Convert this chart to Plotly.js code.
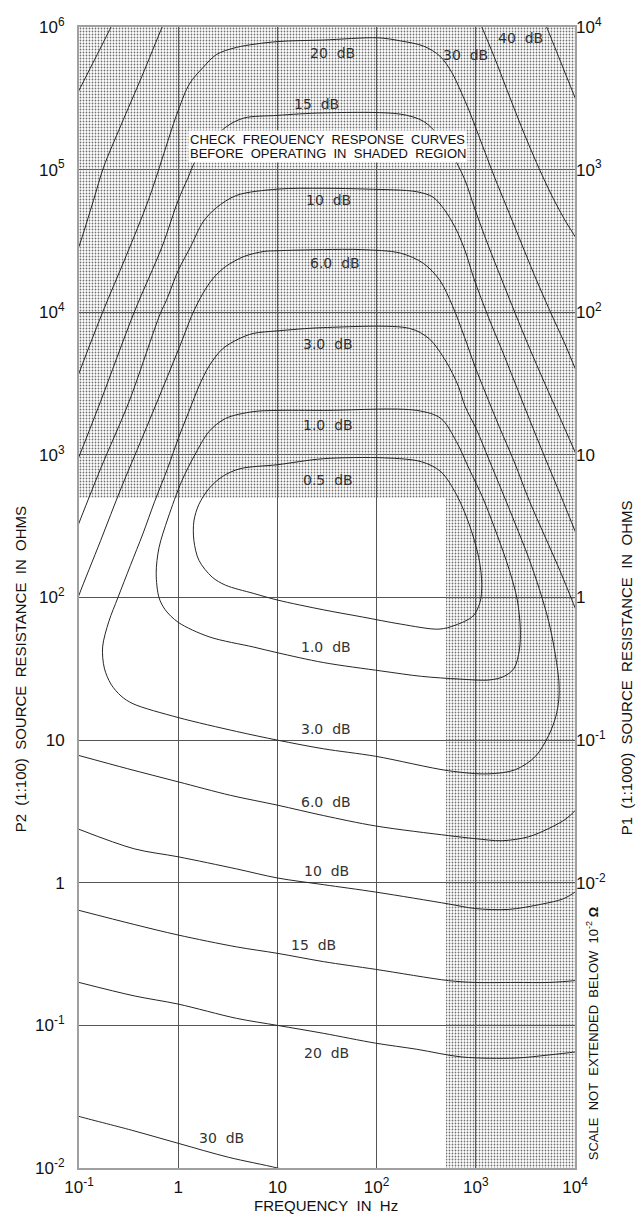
<!DOCTYPE html>
<html>
<head>
<meta charset="utf-8">
<script src="https://cdn.plot.ly/plotly-3.0.1.min.js"></script>
<style>html,body{margin:0;padding:0;background:#fff;}#chart{width:636px;height:1218px;}</style>
</head>
<body>
<div id="chart"></div>
<script>
// ---------- tick labels ----------
const freqTicks = [0.1, 1, 10, 100, 1000, 10000];
const freqTickText = ['10<sup>-1</sup>', '1', '10', '10<sup>2</sup>', '10<sup>3</sup>', '10<sup>4</sup>'];
const p2Ticks = [0.01, 0.1, 1, 10, 100, 1e3, 1e4, 1e5, 1e6];
const p2TickText = ['10<sup>-2</sup>', '10<sup>-1</sup>', '1', '10', '10<sup>2</sup>', '10<sup>3</sup>', '10<sup>4</sup>', '10<sup>5</sup>', '10<sup>6</sup>'];
const p1Ticks = [0.01, 0.1, 1, 10, 100, 1e3, 1e4];
const p1TickText = ['10<sup>-2</sup>', '10<sup>-1</sup>', '1', '10', '10<sup>2</sup>', '10<sup>3</sup>', '10<sup>4</sup>'];

// ---------- shaded region (Hz, ohms) ----------
const shadeF = [0.1, 500, 500, 10000, 10000, 0.1];
const shadeR = [500, 500, 0.01, 0.01, 1e6, 1e6];

// ---------- upper family contours (frequency Hz, P2 resistance ohms) ----------
const c40F = [0.085, 0.1, 0.21, 0.253, null, 4400, 5180, 10000, 12600];
const c40R = [2.9e5, 3.6e5, 1e6, 1.32e6, null, 1.32e6, 1e6, 3.2e5, 2.15e5];

const c30F = [0.087, 0.1, 0.14, 0.177, 0.265, 0.43, 0.69, 0.87, null, 1020, 1150, 1530, 2070, 2880, 4090, 5820, 8100, 10000, 12600];
const c30R = [2.3e4, 2.9e4, 6.1e4, 1.04e5, 2.05e5, 4.5e5, 1e6, 1.43e6, null, 1.21e6, 1e6, 6.2e5, 3.6e5, 2.0e5, 1.12e5, 6.6e4, 4.3e4, 3.4e4, 2.5e4];

const c20F = [0.087, 0.1, 0.173, 0.30, 0.50, 1.0, 1.3, 1.78, 2.42, 3.88, 10, 29, 103, 173, 297, 435, 570, 713, 855, 1020, 1240, 1560, 2020, 2750, 3910, 5560, 7910, 10000, 12600];
const c20R = [2870, 3740, 1.0e4, 2.5e4, 6.1e4, 2.6e5, 4.0e5, 5.2e5, 6.4e5, 7.2e5, 7.9e5, 8.1e5, 8.4e5, 8.0e5, 7.35e5, 6.25e5, 4.83e5, 3.49e5, 2.6e5, 1.89e5, 1.32e5, 8.7e4, 5.6e4, 3.3e4, 1.81e4, 1.03e4, 6000, 4060, 2800];

const c15F = [0.087, 0.1, 0.165, 0.36, 0.69, 1.0, 1.25, 1.5, 2.0, 3.06, 4.6, 10, 29, 173, 297, 466, 623, 780, 977, 1320, 1840, 2500, 3480, 4940, 7030, 10000, 12600];
const c15R = [762, 970, 2370, 1.0e4, 2.9e4, 6.1e4, 8.7e4, 1.16e5, 1.48e5, 2.0e5, 2.3e5, 2.4e5, 2.5e5, 2.45e5, 2.18e5, 1.6e5, 1.16e5, 8.4e4, 5.3e4, 3.0e4, 1.67e4, 9800, 5600, 3190, 1830, 1050, 728];

const c10F = [0.087, 0.1, 0.165, 0.32, 0.66, 0.76, 1.0, 1.34, 1.78, 2.42, 3.88, 10, 29, 82, 254, 372, 486, 623, 780, 955, 1360, 1840, 2440, 3480, 4940, 7030, 10000, 12600];
const c10R = [258, 333, 800, 2370, 9800, 1.21e4, 1.96e4, 2.9e4, 4.3e4, 5.4e4, 6.6e4, 7.3e4, 7.4e4, 7.3e4, 7.0e4, 6.4e4, 5.2e4, 3.9e4, 2.7e4, 1.73e4, 9000, 5400, 3300, 1770, 970, 537, 293, 197];

const c6F = [0.087, 0.1, 0.165, 0.265, 0.43, 0.69, 1.06, 1.4, 1.78, 2.25, 3.0, 4.6, 7.35, 10, 29, 70, 173, 297, 435, 582, 763, 977, 1290, 1720, 2440, 3480, 4940, 7030, 10000, 12600];
const c6R = [79, 104, 250, 582, 1300, 2880, 6000, 9800, 1.36e4, 1.73e4, 2.09e4, 2.46e4, 2.67e4, 2.7e4, 2.75e4, 2.75e4, 2.6e4, 2.2e4, 1.67e4, 1.11e4, 6800, 4200, 2580, 1580, 895, 473, 271, 155, 85, 57];

// closed contours
const c3F = [10, 29, 216, 340, 498, 667, 780, 1020, 1360, 1840, 2500, 3400, 4400, 5430, 6250, 6870, 6870, 6400, 5430, 4000, 2500, 1320, 532, 98, 29, 10, 3.88, 1.0, 0.35, 0.265, 0.21, 0.18, 0.173, 0.2, 0.247, 0.33, 0.44, 0.58, 0.78, 1.0, 1.28, 1.62, 2.05, 2.79, 4.07, 5.7, 10];
const c3R = [7400, 7800, 7700, 6500, 4550, 3030, 2190, 1500, 923, 555, 328, 191, 113, 68, 42, 26, 19.4, 14.6, 10.8, 7.7, 6.2, 5.8, 6.1, 7.7, 8.7, 10, 11.5, 14.4, 18, 20.4, 24.7, 32, 45, 68, 100, 168, 279, 473, 800, 1300, 2010, 3030, 4200, 5530, 6500, 7100, 7400];

const c1F = [10, 29, 254, 445, 637, 855, 1180, 1600, 2170, 2620, 2810, 2750, 2440, 1930, 1360, 682, 284, 113, 29, 10, 5.7, 2.05, 1.0, 0.74, 0.64, 0.60, 0.64, 0.79, 1.08, 1.47, 2.05, 3.0, 5.7, 10];
const c1R = [2050, 2050, 2050, 1800, 1240, 800, 497, 288, 157, 96, 60, 43, 32, 28, 26.4, 26.8, 28, 30.5, 35, 41, 45, 53, 67, 82, 100, 148, 223, 361, 650, 1000, 1460, 1800, 2010, 2050];

const c05F = [10, 29, 120, 284, 445, 637, 855, 1070, 1150, 1100, 935, 623, 425, 177, 72, 29, 10, 5.7, 3.0, 2.2, 1.62, 1.44, 1.44, 1.62, 2.05, 2.79, 4.2, 10];
const c05R = [853, 940, 953, 895, 762, 528, 328, 191, 124, 92, 74, 64, 60, 65, 73, 82, 96, 107, 122, 139, 182, 250, 344, 451, 582, 705, 800, 853];

// ---------- lower family contours ----------
const l6F = [0.1, 0.31, 1.0, 3.37, 10, 29, 98, 532, 977, 1840, 3400, 5430, 8100, 10000, 12600];
const l6R = [7.8, 6.3, 5.1, 4.1, 3.5, 2.96, 2.5, 2.14, 2.04, 1.97, 2.1, 2.4, 2.8, 3.2, 3.77];

const l10F = [0.1, 0.36, 1.0, 3.88, 10, 29, 98, 532, 977, 2120, 4710, 7550, 10000, 12600];
const l10R = [2.37, 1.73, 1.52, 1.25, 1.08, 0.97, 0.86, 0.71, 0.66, 0.65, 0.71, 0.77, 0.86, 0.98];

const l15F = [0.1, 0.36, 1.0, 3.88, 10, 29, 98, 532, 977, 2500, 5430, 10000, 12600];
const l15R = [0.64, 0.51, 0.43, 0.355, 0.32, 0.28, 0.247, 0.206, 0.20, 0.20, 0.20, 0.206, 0.21];

const l20F = [0.1, 0.36, 1.0, 3.88, 10, 29, 98, 254, 730, 2500, 5430, 10000, 12600];
const l20R = [0.20, 0.161, 0.141, 0.112, 0.1, 0.088, 0.075, 0.068, 0.060, 0.059, 0.062, 0.065, 0.066];

const l30F = [0.087, 0.1, 0.34, 1.0, 3.2, 10, 18.4];
const l30R = [0.0237, 0.023, 0.0184, 0.0149, 0.0119, 0.01, 0.0089];

// ---------- curve labels ----------
const labelText = ['20 dB', '15 dB', '10 dB', '6.0 dB', '3.0 dB', '1.0 dB', '0.5 dB', '30 dB', '40 dB',
                   '1.0 dB', '3.0 dB', '6.0 dB', '10 dB', '15 dB', '20 dB', '30 dB'];

// ---------- build traces ----------
const curveLine = {color: '#262626', width: 1, shape: 'spline', smoothing: 0.9};
function curve(f, r) {
  return {type: 'scatter', mode: 'lines', x: f, y: r, line: curveLine,
          connectgaps: false, hoverinfo: 'skip', showlegend: false};
}
const traces = [
  {type: 'scatter', mode: 'none', x: shadeF, y: shadeR, fill: 'toself',
   fillcolor: 'rgba(0,0,0,0)',
   fillpattern: {shape: '.', size: 3, solidity: 0.28, fgcolor: '#707070', bgcolor: 'rgba(0,0,0,0)'},
   hoverinfo: 'skip', showlegend: false},
  curve(c40F, c40R), curve(c30F, c30R), curve(c20F, c20R), curve(c15F, c15R),
  curve(c10F, c10R), curve(c6F, c6R), curve(c3F, c3R), curve(c1F, c1R), curve(c05F, c05R),
  curve(l6F, l6R), curve(l10F, l10R), curve(l15F, l15R), curve(l20F, l20R), curve(l30F, l30R),
  {type: 'scatter', mode: 'none', x: [1], y: [1], yaxis: 'y2', hoverinfo: 'skip', showlegend: false}
];

// label positions (frequency, resistance)
const labelPos = [[36, 6.6e5], [24.7, 2.9e5], [32.4, 6.1e4], [38, 2.2e4], [32.4, 6000], [32.4, 1630], [32.4, 671],
                  [780, 6.4e5], [2810, 8.4e5],
                  [31, 45], [31, 12], [31, 3.7], [31, 1.21], [23, 0.367], [31, 0.064], [2.72, 0.0162]];
const lg = Math.log10;
const annotations = labelText.map((t, i) => ({
  x: lg(labelPos[i][0]), y: lg(labelPos[i][1]), xref: 'x', yref: 'y',
  text: t.replace(' ', '\u00a0\u00a0'), showarrow: false,
  font: {family: 'DejaVu Sans, sans-serif', size: 14, color: '#333'}
}));
const boxFont = {family: 'Liberation Sans, Arial, sans-serif', size: 13, color: '#111'};
const titleFont = {family: 'Liberation Sans, Arial, sans-serif', size: 15, color: '#111'};
annotations.push(
  {x: lg(32), y: lg(1.62e5), xref: 'x', yref: 'y', text: 'CHECK\u00a0 FREQUENCY\u00a0 RESPONSE\u00a0 CURVES',
   showarrow: false, bgcolor: '#ffffff', borderpad: 1, font: boxFont},
  {x: lg(32), y: lg(1.30e5), xref: 'x', yref: 'y', text: 'BEFORE\u00a0 OPERATING\u00a0 IN\u00a0 SHADED\u00a0 REGION',
   showarrow: false, bgcolor: '#ffffff', borderpad: 1, font: boxFont},
  {x: 0.498, y: -0.0333, xref: 'paper', yref: 'paper', xanchor: 'center', yanchor: 'middle',
   text: 'FREQUENCY\u00a0 IN\u00a0 Hz', showarrow: false, font: titleFont},
  {x: -0.119, y: 0.437, xref: 'paper', yref: 'paper', xanchor: 'center', yanchor: 'middle', textangle: -90,
   text: 'P2\u00a0 (1:100)\u00a0 SOURCE\u00a0 RESISTANCE\u00a0 IN\u00a0 OHMS', showarrow: false, font: titleFont},
  {x: 1.103, y: 0.438, xref: 'paper', yref: 'paper', xanchor: 'center', yanchor: 'middle', textangle: -90,
   text: 'P1\u00a0 (1:1000)\u00a0 SOURCE\u00a0 RESISTANCE\u00a0 IN\u00a0 OHMS', showarrow: false, font: titleFont},
  {x: 1.036, y: 0.118, xref: 'paper', yref: 'paper', xanchor: 'center', yanchor: 'middle', textangle: -90,
   text: 'SCALE\u00a0 NOT\u00a0 EXTENDED\u00a0 BELOW\u00a0 10<sup>-2</sup> <b>\u03a9</b>',
   showarrow: false, font: {family: 'Liberation Sans, Arial, sans-serif', size: 13, color: '#111'}}
);

const tickFont = {family: 'Liberation Sans, Arial, sans-serif', size: 17, color: '#111'};
const layout = {
  width: 636, height: 1218,
  margin: {l: 79, r: 61, t: 27, b: 50, pad: 0},
  paper_bgcolor: '#ffffff', plot_bgcolor: '#ffffff',
  showlegend: false,
  xaxis: {type: 'log', range: [-1, 4], tickvals: freqTicks, ticktext: freqTickText,
          showgrid: true, gridcolor: '#555', gridwidth: 1, zeroline: false,
          showline: true, mirror: true, linecolor: '#a0a0a0', linewidth: 2,
          ticks: 'outside', ticklen: 3, tickcolor: 'rgba(0,0,0,0)', tickfont: tickFont, fixedrange: true},
  yaxis: {type: 'log', range: [-2, 6], tickvals: p2Ticks, ticktext: p2TickText,
          showgrid: true, gridcolor: '#555', gridwidth: 1, zeroline: false,
          showline: true, mirror: true, linecolor: '#a0a0a0', linewidth: 2,
          ticks: 'outside', ticklen: 9, tickcolor: 'rgba(0,0,0,0)', tickfont: tickFont, fixedrange: true},
  yaxis2: {type: 'log', range: [-4, 4], overlaying: 'y', side: 'right',
           tickvals: p1Ticks, ticktext: p1TickText, showgrid: false, zeroline: false,
           showline: false, ticks: '', tickfont: tickFont, fixedrange: true},
  annotations: annotations
};

Plotly.newPlot('chart', traces, layout, {staticPlot: true, displayModeBar: false});
</script>
</body>
</html>
